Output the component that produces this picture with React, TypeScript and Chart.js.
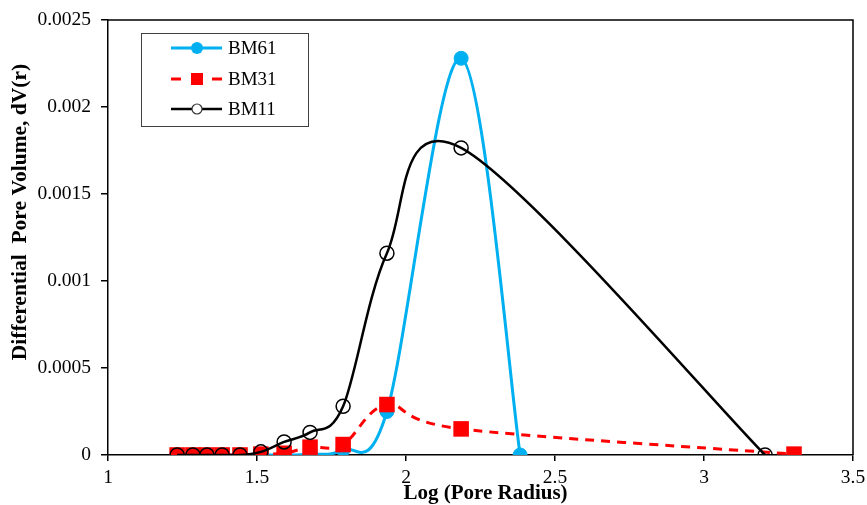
import React, { useEffect, useRef } from "react";
import { Chart, registerables } from "chart.js";

Chart.register(...registerables);

// ---- Data ----
const bm61X = [1.232, 1.285, 1.332, 1.383, 1.443, 1.513, 1.591, 1.678, 1.789, 1.936, 2.185, 2.383];
const bm61Y = [0, 0, 0, 0, 0, 0, 0, 0.000005, 0.00003, 0.00025, 0.00228, 0];

const bm31X = [1.232, 1.285, 1.332, 1.383, 1.443, 1.513, 1.591, 1.678, 1.789, 1.936, 2.185, 3.302];
const bm31Y = [0, 0, 0, 0, 0, 0.000005, 0.00001, 0.000045, 0.00006, 0.00029, 0.00015, 0.000005];

const bm11X = [1.232, 1.285, 1.332, 1.383, 1.443, 1.513, 1.591, 1.678, 1.789, 1.936, 2.185, 3.205];
const bm11Y = [0, 0, 0, 0, 0, 0.000018, 0.000075, 0.00013, 0.00028, 0.00116, 0.001765, 0];

const seriesNames = ["BM61", "BM31", "BM11"];
const xTickLabels = ["1", "1.5", "2", "2.5", "3", "3.5"];
const yTickLabels = ["0", "0.0005", "0.001", "0.0015", "0.002", "0.0025"];
const xTitle = "Log (Pore Radius)";
const yTitle = "Differential  Pore Volume, dV(r)";

const BLUE = "#00B0F0";
const RED = "#FF0000";
const BLACK = "#000000";
const FONT = "'Liberation Serif', 'Times New Roman', serif";

const toPoints = (xs: number[], ys: number[]) => xs.map((x, i) => ({ x, y: ys[i] }));

// Excel-like smoothing: uniform Catmull-Rom control points computed from the
// pixel positions that Chart.js assigned to each point.
const smoothPlugin = {
  id: "excelSmooth",
  beforeDatasetsDraw(chart: any) {
    chart.getSortedVisibleDatasetMetas().forEach((meta: any) => {
      const pts = meta.data;
      const n = pts.length;
      for (let i = 0; i < n; i++) {
        const p0 = pts[Math.max(0, i - 1)];
        const p1 = pts[i];
        const p2 = pts[Math.min(n - 1, i + 1)];
        const dx = (p2.x - p0.x) / 6;
        const dy = (p2.y - p0.y) / 6;
        p1.cp1x = p1.x - dx;
        p1.cp1y = p1.y - dy;
        p1.cp2x = p1.x + dx;
        p1.cp2y = p1.y + dy;
      }
      if (meta.dataset) {
        meta.dataset._pointsUpdated = true;
        meta.dataset._path = undefined;
      }
    });
  },
};

const framePlugin = {
  id: "frame",
  afterDatasetsDraw(chart: any) {
    const { ctx, chartArea } = chart;
    ctx.save();
    ctx.strokeStyle = BLACK;
    ctx.lineWidth = 1.5;
    ctx.beginPath();
    ctx.moveTo(chartArea.left, chartArea.top);
    ctx.lineTo(chartArea.right, chartArea.top);
    ctx.lineTo(chartArea.right, chartArea.bottom);
    ctx.stroke();
    ctx.restore();
  },
};

const titlesPlugin = {
  id: "axisTitles",
  afterDraw(chart: any) {
    const { ctx, chartArea } = chart;
    ctx.save();
    ctx.fillStyle = BLACK;
    ctx.font = `bold 21px ${FONT}`;
    ctx.textAlign = "center";
    ctx.textBaseline = "middle";
    ctx.fillText(xTitle, (chartArea.left + chartArea.right) / 2 + 5, 494);
    ctx.translate(20, 212);
    ctx.rotate(-Math.PI / 2);
    ctx.font = `bold 21.5px ${FONT}`;
    ctx.fillText(yTitle, 0, 0);
    ctx.restore();
  },
};

const legendPlugin = {
  id: "customLegend",
  afterDraw(chart: any) {
    const { ctx } = chart;
    const left = 141;
    const top = 33;
    const w = 167;
    const h = 93;
    ctx.save();
    ctx.fillStyle = "#ffffff";
    ctx.fillRect(left, top, w, h);
    ctx.strokeStyle = "#404040";
    ctx.lineWidth = 1;
    ctx.strokeRect(left + 0.5, top + 0.5, w, h);
    const rows = [48, 79, 109];
    const x0 = 171;
    const x1 = 222;
    const cx = 197;
    rows.forEach((y, i) => {
      ctx.save();
      if (i === 0) {
        ctx.strokeStyle = BLUE;
        ctx.lineWidth = 3;
        ctx.beginPath();
        ctx.moveTo(x0, y);
        ctx.lineTo(x1, y);
        ctx.stroke();
        ctx.fillStyle = BLUE;
        ctx.beginPath();
        ctx.arc(cx, y, 6, 0, Math.PI * 2);
        ctx.fill();
      } else if (i === 1) {
        ctx.strokeStyle = RED;
        ctx.lineWidth = 3;
        ctx.beginPath();
        ctx.moveTo(x0, y);
        ctx.lineTo(x0 + 10, y);
        ctx.moveTo(x1 - 10, y);
        ctx.lineTo(x1, y);
        ctx.stroke();
        ctx.fillStyle = RED;
        ctx.fillRect(cx - 6, y - 6, 12, 12);
      } else {
        ctx.strokeStyle = BLACK;
        ctx.lineWidth = 2.5;
        ctx.beginPath();
        ctx.moveTo(x0, y);
        ctx.lineTo(cx - 5, y);
        ctx.moveTo(cx + 5, y);
        ctx.lineTo(x1, y);
        ctx.stroke();
        ctx.strokeStyle = "#333333";
        ctx.lineWidth = 1.2;
        ctx.beginPath();
        ctx.arc(cx, y, 5, 0, Math.PI * 2);
        ctx.stroke();
      }
      ctx.restore();
      ctx.fillStyle = BLACK;
      ctx.font = `19px ${FONT}`;
      ctx.textAlign = "left";
      ctx.textBaseline = "middle";
      ctx.fillText(seriesNames[i], 228, y + 1);
    });
    ctx.restore();
  },
};

export default function App() {
  const canvasRef = useRef<HTMLCanvasElement | null>(null);

  useEffect(() => {
    if (!canvasRef.current) return;
    const chart = new Chart(canvasRef.current, {
      type: "line",
      data: {
        datasets: [
          {
            label: seriesNames[0],
            data: toPoints(bm61X, bm61Y),
            borderColor: BLUE,
            backgroundColor: BLUE,
            borderWidth: 3,
            pointRadius: 7,
            pointBackgroundColor: BLUE,
            pointBorderColor: BLUE,
            pointBorderWidth: 1,
            tension: 0.4,
            fill: false,
            order: 3,
          },
          {
            label: seriesNames[1],
            data: toPoints(bm31X, bm31Y),
            borderColor: RED,
            backgroundColor: RED,
            borderWidth: 3,
            borderDash: [9, 7],
            pointStyle: "rect",
            pointRadius: 11,
            pointBackgroundColor: RED,
            pointBorderColor: RED,
            pointBorderWidth: 0,
            tension: 0.4,
            fill: false,
            order: 2,
          },
          {
            label: seriesNames[2],
            data: toPoints(bm11X, bm11Y),
            borderColor: BLACK,
            backgroundColor: "transparent",
            borderWidth: 2.5,
            pointRadius: 7,
            pointBackgroundColor: "rgba(0,0,0,0)",
            pointBorderColor: BLACK,
            pointBorderWidth: 1.5,
            tension: 0.4,
            fill: false,
            order: 1,
          },
        ],
      },
      options: {
        animation: false,
        responsive: false,
        maintainAspectRatio: false,
        layout: { padding: { top: 20, right: 14, left: 0, bottom: 0 }, autoPadding: false },
        plugins: {
          legend: { display: false },
          tooltip: { enabled: false },
        },
        scales: {
          x: {
            type: "linear",
            min: 1,
            max: 3.5,
            afterFit: (scale: any) => {
              scale.height = 50;
              scale.paddingLeft = 0;
              scale.paddingRight = 0;
            },
            afterBuildTicks: (scale: any) => {
              scale.ticks = xTickLabels.map((t) => ({ value: parseFloat(t) }));
            },
            ticks: {
              color: BLACK,
              font: { family: FONT, size: 19.5 },
              padding: 5,
              maxRotation: 0,
              autoSkip: false,
              callback: (_v: any, i: number) => xTickLabels[i],
            },
            grid: {
              display: true,
              drawOnChartArea: false,
              drawTicks: true,
              tickLength: 6,
              color: BLACK,
              lineWidth: 1.5,
            },
            border: { display: true, color: BLACK, width: 1.5 },
            title: { display: false, text: xTitle },
          },
          y: {
            type: "linear",
            min: 0,
            max: 0.0025,
            afterFit: (scale: any) => {
              scale.width = 108;
              scale.paddingTop = 0;
              scale.paddingBottom = 0;
            },
            afterBuildTicks: (scale: any) => {
              scale.ticks = yTickLabels.map((t) => ({ value: parseFloat(t) }));
            },
            ticks: {
              color: BLACK,
              font: { family: FONT, size: 19.5 },
              padding: 10,
              autoSkip: false,
              callback: (_v: any, i: number) => yTickLabels[i],
            },
            grid: {
              display: true,
              drawOnChartArea: false,
              drawTicks: true,
              tickLength: 7,
              color: BLACK,
              lineWidth: 1.5,
            },
            border: { display: true, color: BLACK, width: 1.5 },
            title: { display: false, text: yTitle },
          },
        },
      },
      plugins: [smoothPlugin, framePlugin, titlesPlugin, legendPlugin],
    });
    return () => chart.destroy();
  }, []);

  return (
    <div style={{ position: "fixed", left: 0, top: 0, width: 867, height: 505, background: "#ffffff" }}>
      <canvas ref={canvasRef} width={867} height={505} style={{ display: "block", width: 867, height: 505 }} />
    </div>
  );
}
